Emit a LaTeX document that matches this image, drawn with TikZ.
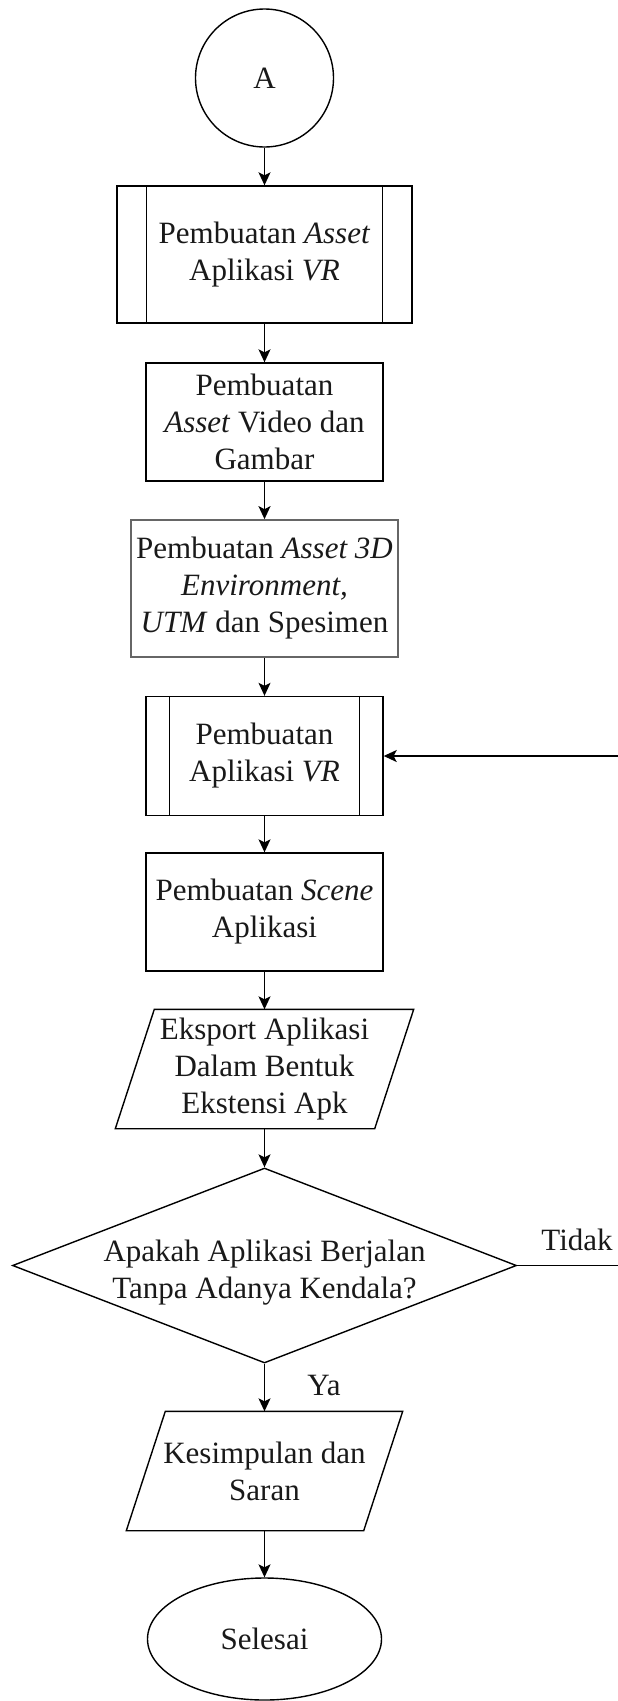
\documentclass[tikz,border=0pt]{standalone}
\usepackage{fontspec}
\setmainfont{Liberation Serif}
\usetikzlibrary{shapes.geometric,arrows.meta}
\begin{document}
\begin{tikzpicture}[x=1pt,y=-1pt,
  line width=1.4pt,
  every node/.style={font=\fontsize{31}{37}\selectfont, align=center, inner sep=0pt, text=black!90},
  proc/.style={draw, rectangle, minimum width=237, minimum height=118},
  arr/.style={-{Stealth[length=13pt,width=12pt,inset=3pt]}},
  io/.style={rectangle, minimum height=118}
]
\useasboundingbox (0,0) rectangle (618,1701);

\node[circle, draw, minimum size=138] (A) at (264.5,78) {A};

\node[proc, minimum width=295, minimum height=137] (b1) at (264.5,254.5) {Pembuatan \textit{Asset}\\Aplikasi \textit{VR}};
\draw ([xshift=30]b1.north west) -- ([xshift=30]b1.south west);
\draw ([xshift=-30]b1.north east) -- ([xshift=-30]b1.south east);

\node[proc] (b2) at (264.5,422) {Pembuatan\\\textit{Asset} Video dan\\Gambar};

\node[proc, draw=black!60, line width=1.7pt, minimum width=267, minimum height=137] (b3) at (264.5,588.5) {Pembuatan \textit{Asset 3D}\\\textit{Environment,}\\\textit{UTM} dan Spesimen};

\node[proc, minimum height=119] (b4) at (264.5,756) {Pembuatan\\Aplikasi \textit{VR}};
\draw ([xshift=24]b4.north west) -- ([xshift=24]b4.south west);
\draw ([xshift=-24]b4.north east) -- ([xshift=-24]b4.south east);

\node[proc] (b5) at (264.5,912) {Pembuatan \textit{Scene}\\Aplikasi};

\node[io, minimum width=258] (p1) at (264.5,1069) {Eksport Aplikasi\\Dalam Bentuk\\Ekstensi Apk};
\draw ([xshift=19.5]p1.north west) -- ([xshift=19.5]p1.north east) -- ([xshift=-19.5]p1.south east) -- ([xshift=-19.5]p1.south west) -- cycle;

\node[diamond, draw, minimum width=504, minimum height=195] (d) at (264.5,1265.5) {};
\node (dt) at (264.5,1272.5) {Apakah Aplikasi Berjalan\\Tanpa Adanya Kendala?};

\node[io, minimum width=236] (p2) at (264.5,1471) {Kesimpulan dan\\Saran};
\draw ([xshift=19.5]p2.north west) -- ([xshift=19.5]p2.north east) -- ([xshift=-19.5]p2.south east) -- ([xshift=-19.5]p2.south west) -- cycle;

\node[ellipse, draw, minimum width=234, minimum height=122] (E) at (264.5,1639) {Selesai};

\node (ya) at (324,1385) {Ya};
\node (tidak) at (577,1240) {Tidak};
\coordinate (r1) at (618,1265.5);
\coordinate (r2) at (618,756);

\draw[arr] (A.south) -- (b1.north);
\draw[arr] (b1.south) -- (b2.north);
\draw[arr] (b2.south) -- (b3.north);
\draw[arr] (b3.south) -- (b4.north);
\draw[arr] (b4.south) -- (b5.north);
\draw[arr] (b5.south) -- (p1.north);
\draw[arr] (p1.south) -- (d.north);
\draw[arr] (d.south) -- (p2.north);
\draw[arr] (p2.south) -- (E.north);
\draw (d.east) -- (r1);
\draw[arr] (r2) -- (b4.east);
\end{tikzpicture}
\end{document}
